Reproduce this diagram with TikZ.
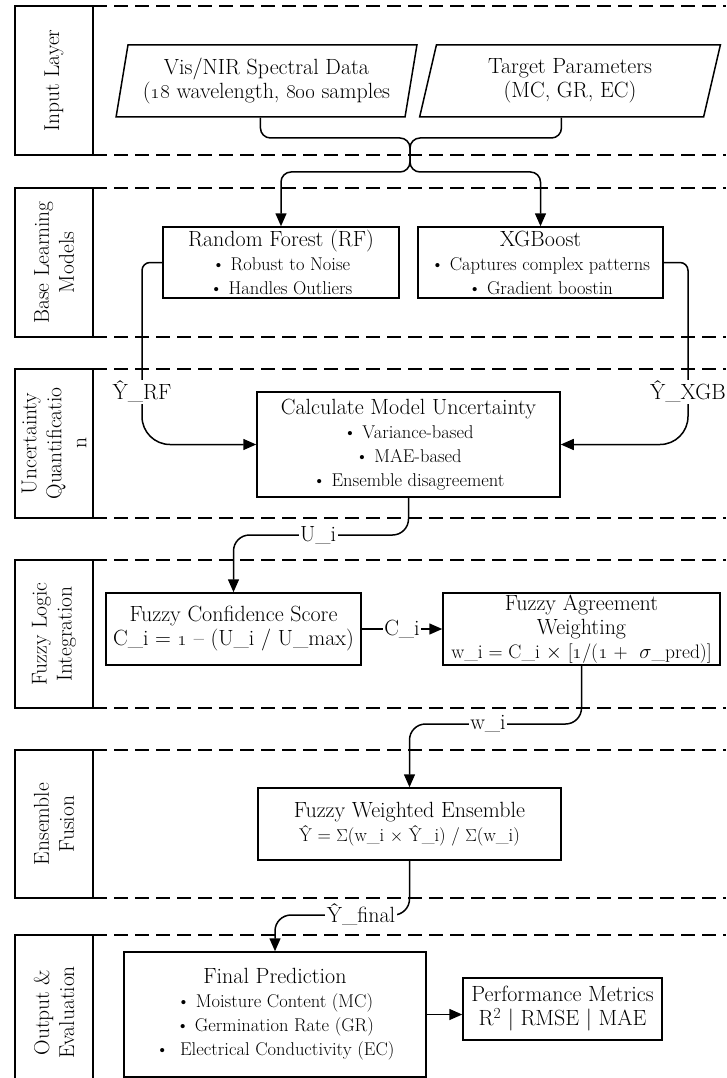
\documentclass[tikz,border=0pt]{standalone}
\usetikzlibrary{arrows.meta,shapes.geometric}

\newcommand\ttlfont{\fontsize{22}{24}\selectfont}
\newcommand\itmfont{\fontsize{18.5}{22}\selectfont}
\newcommand\lanefont{\fontsize{21.5}{25}\selectfont}

\tikzset{
  box/.style={draw, line width=1.5pt, inner sep=0pt, align=center, font=\ttlfont},
  inbox/.style={trapezium, trapezium left angle=77, trapezium right angle=103,
    trapezium stretches=true, draw, line width=1.5pt, inner sep=0pt,
    align=center, font=\ttlfont, minimum width=301pt, minimum height=72pt},
  conn/.style={line width=1.5pt},
  arr/.style={conn, -{Triangle[length=13pt,width=11pt]}},
  lbl/.style={fill=white, inner sep=1.5pt, font=\ttlfont},
  lane/.style={dash pattern=on 14pt off 7pt, line width=1.5pt}
}

\begin{document}
\begin{tikzpicture}[x=1pt, y=-1pt]
  \useasboundingbox (0,0) rectangle (726,1078);

  % lanes
  \foreach \a/\b/\t in {6/155/{Input Layer}, 188/337/{Base Learning\\Models},
      369/518/{Uncertainty\\Quantificatio\\n}, 560/708/{Fuzzy Logic\\Integration},
      750/898/{Ensemble\\Fusion}, 935/1090/{Output \&\\Evaluation}}{
    \draw[line width=1.5pt] (15,\a) rectangle (93,\b);
    \node[rotate=90, align=center, font=\lanefont] at (54,{(\a+\b)/2}) {\t};
    \draw[lane] (93,\a) -- (726,\a);
    \draw[lane] (93,\b) -- (726,\b);
  }

  % input layer
  \node[inbox] (vis) at (266.5,81) {Vis/NIR Spectral Data\\(\oldstylenums{18} wavelength, \oldstylenums{800} samples};
  \node[inbox] (tgt) at (570,81) {Target Parameters\\(MC, GR, EC)};

  % base models
  \node[box, minimum width=236pt, minimum height=71pt] (rf) at (281,262.5)
    {Random Forest (RF)\\{\itmfont\textbullet\ Robust to Noise}\\{\itmfont\textbullet\ Handles Outliers}};
  \node[box, minimum width=245pt, minimum height=71pt] (xgb) at (540.5,262.5)
    {XGBoost\\{\itmfont\textbullet\ Captures complex patterns}\\{\itmfont\textbullet\ Gradient boostin}};

  % uncertainty
  \node[box, minimum width=303pt, minimum height=105pt] (calc) at (408.5,444.5)
    {Calculate Model Uncertainty\\{\itmfont\textbullet\ Variance-based}\\{\itmfont\textbullet\ MAE-based}\\{\itmfont\textbullet\ Ensemble disagreement}};

  % fuzzy logic
  \node[box, minimum width=255pt, minimum height=72pt] (conf) at (233.5,629)
    {Fuzzy Confidence Score\\C\_i = \oldstylenums{1} -- (U\_i / U\_max)};
  \node[box, minimum width=277pt, minimum height=72pt] (agree) at (581.5,629)
    {Fuzzy Agreement\\Weighting\\{\fontsize{19.5}{22}\selectfont w\_i = C\_i $\times$ [\oldstylenums{1}/(\oldstylenums{1} + \ $\sigma$\_pred)]}};

  % fusion
  \node[box, minimum width=303pt, minimum height=72pt] (ens) at (409.5,824)
    {Fuzzy Weighted Ensemble\\{\itmfont\^Y = $\Sigma$(w\_i $\times$ \^Y\_i) / $\Sigma$(w\_i)}};

  % output
  \node[box, minimum width=302pt, minimum height=125pt] (final) at (275,1014.5)
    {Final Prediction\\{\itmfont\textbullet\ Moisture Content (MC)}\\{\itmfont\textbullet\ Germination Rate (GR)}\\{\itmfont\textbullet\ \ Electrical Conductivity (EC)}};
  \node[box, minimum width=199pt, minimum height=62pt] (perf) at (562.5,1009)
    {Performance Metrics\\R\textsuperscript{2} | RMSE | MAE};

  % connectors
  \coordinate (jt) at (410,138);
  \coordinate (jb) at (410,172);
  \coordinate (yrf) at (142,392);
  \coordinate (yxgb) at (688,392);
  \coordinate (ui) at (318,535);
  \coordinate (wi) at (488,724);
  \coordinate (yfin) at (361,915);

  \draw[arr, rounded corners=10pt] (vis.bottom side) |- (jt) -- (jb) -| (rf.north);
  \draw[arr, rounded corners=10pt] (tgt.bottom side) |- (jt) -- (jb) -| (xgb.north);

  \draw[arr] (rf.west) [rounded corners=8pt] -| (yrf) [rounded corners=28pt] |- (calc.west);
  \draw[arr] (xgb.east) [rounded corners=8pt] -| (yxgb) [rounded corners=28pt] |- (calc.east);
  \node[lbl] at (yrf) {\^Y\_RF};
  \node[lbl] at (yxgb) {\^Y\_XGB};

  \draw[arr, rounded corners=16pt] (calc.south) |- (ui) -| (conf.north);
  \node[lbl] at (ui) {U\_i};

  \draw[arr] (conf.east) -- (agree.west) node[lbl, midway] {C\_i};

  \draw[arr, rounded corners=16pt] (agree.south) |- (wi) -| (ens.north);
  \node[lbl] at (wi) {w\_i};

  \draw[arr, rounded corners=16pt] (ens.south) |- (yfin) -| (final.north);
  \node[lbl] at (yfin) {\^Y\_final};

  \draw[arr] (final.east) -- (final.east -| perf.west);
\end{tikzpicture}
\end{document}
